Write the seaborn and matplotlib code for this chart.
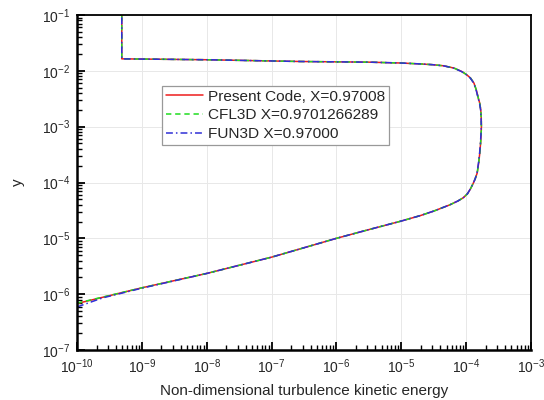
import numpy as np
import pandas as pd
import matplotlib
matplotlib.use("Agg")
import matplotlib.pyplot as plt
from matplotlib.ticker import NullFormatter
import seaborn as sns

# Turbulence kinetic energy profiles k(y) across the boundary layer
k_present = [1.0e-10, 1.0e-9, 1.0e-8, 1.0e-7, 1.0e-6, 3.0e-6, 1.0e-5, 2.0e-5,
             3.2e-5, 5.6e-5, 7.5e-5, 9.1e-5, 1.05e-4, 1.17e-4, 1.28e-4,
             1.38e-4, 1.48e-4, 1.56e-4, 1.62e-4, 1.67e-4, 1.70e-4, 1.72e-4,
             1.71e-4, 1.68e-4, 1.62e-4, 1.55e-4, 1.44e-4, 1.32e-4, 1.17e-4,
             1.02e-4, 8.5e-5, 6.5e-5, 4.5e-5, 3.0e-5, 1.95e-5, 1.0e-5, 3.2e-6,
             2.75e-7, 1.0e-8, 4.9e-10, 4.9e-10]
y_present = [6.8e-7, 1.3e-6, 2.35e-6, 4.6e-6, 1.0e-5, 1.41e-5, 2.04e-5, 2.57e-5,
             3.09e-5, 3.98e-5, 4.68e-5, 5.37e-5, 6.31e-5, 7.76e-5, 9.55e-5,
             1.17e-4, 1.48e-4, 2.24e-4, 3.31e-4, 5.0e-4, 7.1e-4, 1.0e-3,
             1.41e-3, 2.0e-3, 2.63e-3, 3.16e-3, 4.47e-3, 6.03e-3, 7.41e-3,
             8.51e-3, 9.77e-3, 1.12e-2, 1.23e-2, 1.29e-2, 1.33e-2, 1.38e-2, 1.43e-2,
             1.47e-2, 1.58e-2, 1.64e-2, 1.0e-1]

k_cfl3d = [1.0e-10, 1.0e-9, 1.0e-8, 1.0e-7, 1.0e-6, 3.0e-6, 1.0e-5, 2.0e-5,
           3.2e-5, 5.6e-5, 7.5e-5, 9.1e-5, 1.05e-4, 1.17e-4, 1.28e-4,
           1.38e-4, 1.48e-4, 1.56e-4, 1.62e-4, 1.67e-4, 1.70e-4, 1.72e-4,
           1.71e-4, 1.68e-4, 1.62e-4, 1.55e-4, 1.44e-4, 1.32e-4, 1.17e-4,
           1.02e-4, 8.5e-5, 6.5e-5, 4.5e-5, 3.0e-5, 1.95e-5, 1.0e-5, 3.2e-6,
           2.75e-7, 1.0e-8, 4.9e-10, 4.9e-10]
y_cfl3d = [6.9e-7, 1.3e-6, 2.35e-6, 4.6e-6, 1.0e-5, 1.41e-5, 2.04e-5, 2.57e-5,
           3.09e-5, 3.98e-5, 4.68e-5, 5.37e-5, 6.31e-5, 7.76e-5, 9.55e-5,
           1.17e-4, 1.48e-4, 2.24e-4, 3.31e-4, 5.0e-4, 7.1e-4, 1.0e-3,
           1.41e-3, 2.0e-3, 2.63e-3, 3.16e-3, 4.47e-3, 6.03e-3, 7.41e-3,
           8.51e-3, 9.77e-3, 1.12e-2, 1.23e-2, 1.29e-2, 1.33e-2, 1.38e-2, 1.43e-2,
           1.47e-2, 1.58e-2, 1.64e-2, 1.0e-1]

k_fun3d = [1.0e-10, 2.5e-10, 1.0e-9, 1.0e-8, 1.0e-7, 1.0e-6, 3.0e-6, 1.0e-5,
           2.0e-5, 3.2e-5, 5.6e-5, 7.5e-5, 9.1e-5, 1.05e-4, 1.17e-4, 1.28e-4,
           1.38e-4, 1.47e-4, 1.55e-4, 1.61e-4, 1.66e-4, 1.69e-4, 1.71e-4,
           1.70e-4, 1.67e-4, 1.61e-4, 1.54e-4, 1.43e-4, 1.31e-4, 1.16e-4,
           1.01e-4, 8.4e-5, 6.4e-5, 4.5e-5, 3.0e-5, 1.95e-5, 1.0e-5, 3.2e-6,
           2.75e-7, 1.0e-8, 4.9e-10, 4.9e-10]
y_fun3d = [5.9e-7, 8.6e-7, 1.28e-6, 2.35e-6, 4.6e-6, 1.0e-5, 1.41e-5, 2.04e-5,
           2.57e-5, 3.09e-5, 3.98e-5, 4.68e-5, 5.37e-5, 6.31e-5, 7.76e-5, 9.55e-5,
           1.17e-4, 1.48e-4, 2.24e-4, 3.31e-4, 5.0e-4, 7.1e-4, 1.0e-3,
           1.41e-3, 2.0e-3, 2.63e-3, 3.16e-3, 4.47e-3, 6.03e-3, 7.41e-3,
           8.51e-3, 9.77e-3, 1.12e-2, 1.23e-2, 1.29e-2, 1.33e-2, 1.38e-2, 1.43e-2,
           1.47e-2, 1.58e-2, 1.64e-2, 1.0e-1]

labels = ["Present Code, X=0.97008", "CFL3D X=0.9701266289", "FUN3D X=0.97000"]

# Decade ticks shown on each axis
x_ticks = [1e-10, 1e-9, 1e-8, 1e-7, 1e-6, 1e-5, 1e-4, 1e-3]
y_ticks = [1e-7, 1e-6, 1e-5, 1e-4, 1e-3, 1e-2, 1e-1]

sns.set_theme(style="ticks")
plt.rcParams["font.family"] = ["Liberation Sans", "DejaVu Sans"]
plt.rcParams["mathtext.fontset"] = "custom"
plt.rcParams["mathtext.rm"] = "Liberation Sans"
plt.rcParams["mathtext.it"] = "Liberation Sans:italic"
plt.rcParams["mathtext.bf"] = "Liberation Sans:bold"

fig = plt.figure(figsize=(5.44, 4.0), dpi=100)
ax = fig.add_axes([77 / 544, 50 / 400, (531 - 77) / 544, (350 - 15) / 400])

ax.set_xscale("log")
ax.set_yscale("log")

sns.lineplot(x=k_present, y=y_present, sort=False, estimator=None, ax=ax,
             color="#ee1c1c", linewidth=1.1, label=labels[0])
sns.lineplot(x=k_cfl3d, y=y_cfl3d, sort=False, estimator=None, ax=ax,
             color="#1fdc1f", linewidth=1.1, label=labels[1])
ax.lines[-1].set_dashes((3.5, 2.5))
sns.lineplot(x=k_fun3d, y=y_fun3d, sort=False, estimator=None, ax=ax,
             color="#2f2fd6", linewidth=1.1, label=labels[2])
ax.lines[-1].set_dashes((4.5, 2, 1, 2))

ax.set_xticks(x_ticks)
ax.set_yticks(y_ticks)
ax.set_xlim(x_ticks[0], x_ticks[-1])
ax.set_ylim(y_ticks[0], y_ticks[-1])
ax.xaxis.set_minor_formatter(NullFormatter())
ax.yaxis.set_minor_formatter(NullFormatter())

ax.grid(True, which="major", color="#e8e8e8", linewidth=0.7)
ax.set_axisbelow(True)

ax.tick_params(which="both", direction="in", top=False, right=False,
               labelsize=10, pad=5, color="black")
ax.tick_params(which="major", length=6, width=1.3)
ax.tick_params(which="minor", length=3.5, width=1.0)

for side in ["left", "bottom"]:
    ax.spines[side].set_linewidth(1.8)
for side in ["top", "right"]:
    ax.spines[side].set_linewidth(1.3)
for s in ax.spines.values():
    s.set_color("black")

ax.set_xlabel("Non-dimensional turbulence kinetic energy", fontsize=11, labelpad=6)
ax.set_ylabel("y", fontsize=11, labelpad=12)

leg = ax.legend(loc="upper left", bbox_to_anchor=(162 / 544, 1 - 86 / 400),
                bbox_transform=fig.transFigure, fontsize=11.1, frameon=True,
                fancybox=False, edgecolor="#999999", framealpha=1,
                borderpad=0.25, labelspacing=0.3, handlelength=2.4,
                handletextpad=0.35, borderaxespad=0)
leg.get_frame().set_linewidth(0.9)

fig.savefig("out.png", dpi=100)
